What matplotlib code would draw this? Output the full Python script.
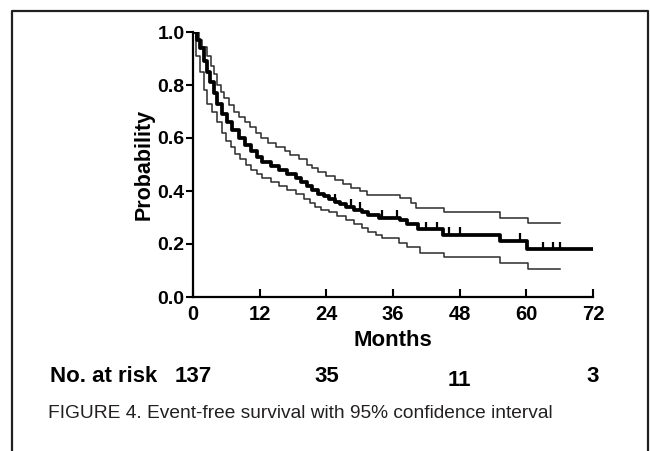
import numpy as np
import matplotlib.pyplot as plt
from matplotlib.lines import Line2D

plt.rcParams['font.family'] = ['Liberation Sans', 'DejaVu Sans']

# -------------------------------
# Data (step curves)
# -------------------------------
t_main = [0, 0.8, 1.3, 1.9, 2.5, 3.1, 3.7, 4.3, 5.2, 6.1, 7.0, 8.2, 9.4, 10.5, 11.5,
          12.5, 14, 15.5, 17, 18.5, 19.5, 20.5, 21.5, 22.5, 23.5, 24.5, 25.5, 26.5,
          27.5, 29, 30.5, 31.5, 33.5, 37.2, 38.5, 40.5, 45, 55.2, 60.1, 72.4]
s_main = [1.0, 0.97, 0.94, 0.89, 0.85, 0.81, 0.77, 0.73, 0.69, 0.66, 0.63, 0.60, 0.575,
          0.55, 0.53, 0.51, 0.495, 0.48, 0.465, 0.45, 0.435, 0.42, 0.405, 0.39, 0.38,
          0.37, 0.36, 0.35, 0.34, 0.33, 0.32, 0.31, 0.30, 0.29, 0.275, 0.255, 0.234,
          0.211, 0.18, 0.18]

t_upper = [0, 1.0, 1.6, 2.6, 3.2, 3.7, 4.3, 5.0, 5.6, 6.4, 7.3, 8.3, 9.3, 10.3, 11.3,
           12.3, 13.5, 15, 16.5, 17.5, 19, 20.5, 21.5, 22.5, 24, 25.5, 27, 28.5, 30,
           31.3, 37.2, 39.3, 40.2, 45.1, 55.2, 60.3, 66.1]
s_upper = [1.0, 0.97, 0.945, 0.91, 0.87, 0.84, 0.80, 0.775, 0.75, 0.725, 0.70, 0.68,
           0.66, 0.64, 0.62, 0.60, 0.58, 0.565, 0.55, 0.535, 0.52, 0.50, 0.485, 0.47,
           0.455, 0.44, 0.425, 0.41, 0.40, 0.385, 0.372, 0.353, 0.335, 0.32, 0.297,
           0.278, 0.278]

t_lower = [0, 0.6, 1.2, 2.0, 2.6, 3.4, 4.3, 5.2, 6.0, 6.8, 7.6, 8.5, 9.5, 10.5, 11.5,
           12.5, 14, 15.5, 17, 18.5, 20, 21, 22, 23, 24.5, 26, 27.5, 29, 30.5, 31.5,
           33, 34, 37, 38.5, 40.8, 45.1, 55.2, 60.3, 66.1]
s_lower = [1.0, 0.91, 0.85, 0.78, 0.73, 0.70, 0.66, 0.62, 0.59, 0.565, 0.54, 0.52,
           0.50, 0.48, 0.465, 0.45, 0.435, 0.42, 0.405, 0.39, 0.37, 0.355, 0.34, 0.33,
           0.32, 0.305, 0.29, 0.275, 0.26, 0.245, 0.235, 0.223, 0.204, 0.189, 0.166,
           0.151, 0.128, 0.106, 0.106]

# censored observations (tick marks)
t_cens = [25.5, 28.5, 30, 34, 36.8, 42, 44, 46, 48, 58.8, 63, 64.8, 66]

risk_months = [0, 24, 48, 72]
risk_counts = ['137', '35', '11', '3']
x_ticks = [0, 12, 24, 36, 48, 60, 72]
y_ticks = [0.0, 0.2, 0.4, 0.6, 0.8, 1.0]

# -------------------------------
# Figure
# -------------------------------
fig = plt.figure(figsize=(6.5, 4.51), dpi=100)
ax = fig.add_axes([193 / 650, 154 / 451, 400 / 650, 265 / 451])

ax.step(t_upper, s_upper, where='post', color='#2b2b2b', lw=1.1)
ax.step(t_lower, s_lower, where='post', color='#2b2b2b', lw=1.1)
ax.step(t_main, s_main, where='post', color='black', lw=2.7)

# censor marks sit on top of the main curve
cens_y = [s_main[np.searchsorted(t_main, c, side='right') - 1] for c in t_cens]
ax.plot(t_cens, np.array(cens_y) + 0.014, ls='none', marker='|', ms=6, mew=1.6, color='black')

ax.set_xlim(0, 72)
ax.set_ylim(0, 1.0)
ax.set_xticks(x_ticks)
ax.set_yticks(y_ticks)
ax.set_xticklabels([str(v) for v in x_ticks], fontsize=14.5, fontweight='bold')
ax.set_yticklabels([f'{v:.1f}' for v in y_ticks], fontsize=14, fontweight='bold')
ax.tick_params(axis='x', direction='in', length=6, width=1.5, pad=6)
ax.tick_params(axis='y', direction='out', length=5, width=1.5, pad=1)

for side in ['top', 'right']:
    ax.spines[side].set_visible(False)
for side in ['left', 'bottom']:
    ax.spines[side].set_linewidth(1.6)

ax.set_xlabel('Months', fontsize=16, fontweight='bold', labelpad=4)
ax.set_ylabel('Probability', fontsize=15.5, fontweight='bold', labelpad=2)

# number at risk row
trans = ax.get_xaxis_transform()
fig.text(50 / 650, 1 - 377 / 451, 'No. at risk', fontsize=16, fontweight='bold',
         va='center', ha='left')
risk_y = [-0.30, -0.30, -0.315, -0.30]
for m, c, yy in zip(risk_months, risk_counts, risk_y):
    ax.text(m, yy, c, transform=trans, fontsize=16, fontweight='bold',
            ha='center', va='center', clip_on=False)

# caption
fig.text(48 / 650, 1 - 413 / 451, 'FIGURE 4. Event-free survival with 95% confidence interval',
         fontsize=13.8, color='#231f20', va='center', ha='left')

# frame around the figure (open at the bottom)
bx = [12 / 650, 12 / 650, 648 / 650, 648 / 650]
by = [0.0, 1 - 11 / 451, 1 - 11 / 451, 0.0]
fig.add_artist(Line2D(bx, by, transform=fig.transFigure, color='#231f20', lw=1.6))

fig.savefig('out.png', dpi=100)
